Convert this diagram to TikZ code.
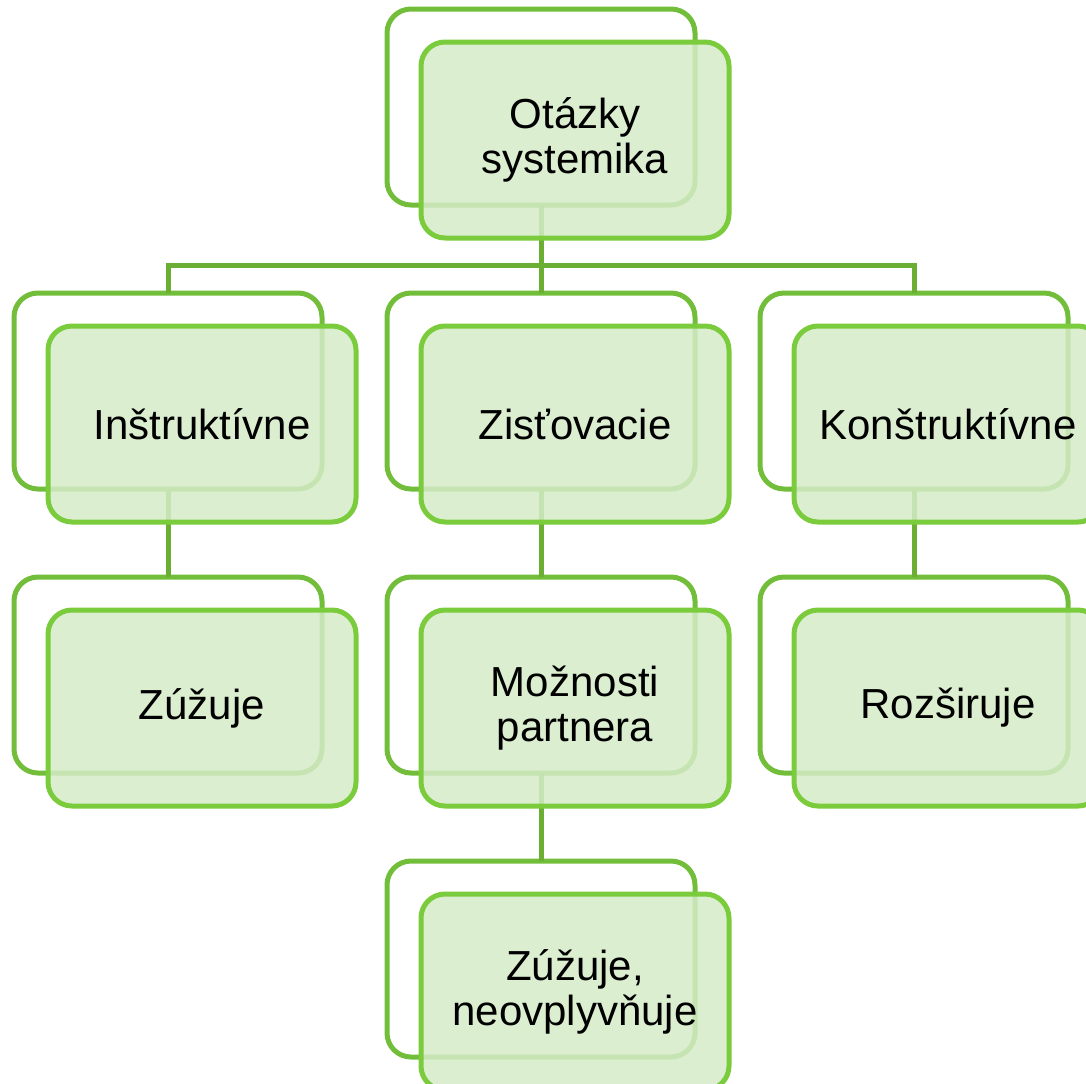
\documentclass[tikz,border=0pt]{standalone}
\usepackage{fontspec}
\setmainfont{Liberation Sans}
\usetikzlibrary{positioning}
\definecolor{edgegreen}{HTML}{7ACC3C}
\definecolor{backgreen}{HTML}{72BD3A}
\definecolor{linkgreen}{HTML}{6AAF34}
\definecolor{palegreen}{HTML}{D5ECC8}
\tikzset{backbox/.style={draw=backgreen,line width=2.5pt,rounded corners=12pt,fill=white,minimum width=154pt,minimum height=98pt,inner sep=0pt,outer sep=0pt},frontbox/.style={draw=edgegreen,line width=2.5pt,rounded corners=12pt,fill=palegreen,fill opacity=0.85,text opacity=1,minimum width=154pt,minimum height=98pt,inner sep=0pt,outer sep=0pt,align=center,font=\fontsize{21}{22.5}\selectfont},link/.style={draw=linkgreen,line width=2.5pt}}

\begin{document}
\begin{tikzpicture}[x=0.5pt,y=-0.5pt,node distance=44pt and 32.5pt]
\useasboundingbox (0,0) rectangle (1086,1083);
\clip (0,0) rectangle (1086,1083);
% back boxes
\node[backbox] (topB) at (541,107) {};
\node[backbox,below=of topB] (zisB) {};
\node[backbox,left=of zisB] (insB) {};
\node[backbox,right=of zisB] (konB) {};
\node[backbox,below=of insB] (zuzB) {};
\node[backbox,below=of zisB] (mozB) {};
\node[backbox,below=of konB] (rozB) {};
\node[backbox,below=of mozB] (neoB) {};
% connectors
\draw[link] (topB.south) -- ++(0,60) coordinate (split);
\draw[link] (split) -| (insB.north);
\draw[link] (split) -| (konB.north);
\draw[link] (split) -- (zisB.north);
\draw[link] (insB) -- (zuzB); \draw[link] (zisB) -- (mozB); \draw[link] (konB) -- (rozB); \draw[link] (mozB) -- (neoB);
% front boxes
\node[frontbox] (top) at ([shift={(34,33)}]topB.center) {Otázky\\systemika};
\node[frontbox] (ins) at ([shift={(34,33)}]insB.center) {Inštruktívne};
\node[frontbox] (zis) at ([shift={(34,33)}]zisB.center) {Zisťovacie};
\node[frontbox] (kon) at ([shift={(34,33)}]konB.center) {Konštruktívne};
\node[frontbox] (zuz) at ([shift={(34,33)}]zuzB.center) {Zúžuje};
\node[frontbox] (moz) at ([shift={(34,33)}]mozB.center) {Možnosti\\partnera};
\node[frontbox] (roz) at ([shift={(34,33)}]rozB.center) {Rozširuje};
\node[frontbox] (neo) at ([shift={(34,33)}]neoB.center) {Zúžuje,\\neovplyvňuje};
\end{tikzpicture}
\end{document}
